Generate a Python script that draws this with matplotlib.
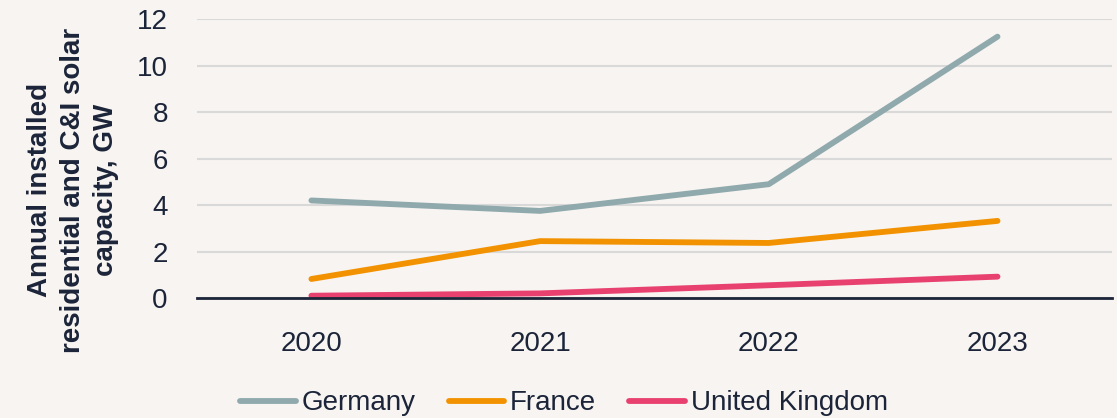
import matplotlib.pyplot as plt

years = ['2020', '2021', '2022', '2023']
germany = [4.2, 3.75, 4.9, 11.25]
france = [0.82, 2.45, 2.37, 3.32]
uk = [0.1, 0.2, 0.55, 0.92]

bg = '#F7F4F1'
txt = '#1B2438'

plt.rcParams['font.family'] = ['Liberation Sans', 'DejaVu Sans']

fig = plt.figure(figsize=(11.17, 4.18), dpi=100, facecolor=bg)
ax = fig.add_axes([0.1764, 0.287, 0.819, 0.667], facecolor=bg)

x = range(len(years))
kw = dict(lw=4.2, solid_capstyle='round')
ax.plot(x, germany, color='#8FA9AC', label='Germany', **kw)
ax.plot(x, france, color='#F39200', label='France', **kw)
ax.plot(x, uk, color='#E8416F', label='United Kingdom', **kw)

ax.set_xlim(-0.5, 3.5)
ax.set_ylim(0, 12)
ax.set_yticks(range(0, 13, 2))
ax.set_xticks(list(x))
ax.set_xticklabels(years)
ax.grid(axis='y', color='#D9D9D9', lw=1.5)
ax.set_axisbelow(True)
for s in ['top', 'right', 'left']:
    ax.spines[s].set_visible(False)
ax.spines['bottom'].set_color(txt)
ax.spines['bottom'].set_linewidth(2)
ax.spines['bottom'].set_zorder(5)
ax.tick_params(axis='both', length=0, labelsize=20, colors=txt)
ax.tick_params(axis='y', pad=21)
ax.tick_params(axis='x', pad=24)

# multi-line bold y title, placed by hand like the original
fig.text(0.065, 0.545, 'Annual installed\nresidential and C&I solar\ncapacity, GW',
         rotation=90, ha='center', va='center', fontsize=20, fontweight='bold',
         color=txt, linespacing=1.35)

leg = fig.legend(loc='center', bbox_to_anchor=(0.505, 0.035), ncol=3, frameon=False,
                 fontsize=20, handlelength=2.0, handletextpad=0.2, columnspacing=1.2)
for t in leg.get_texts():
    t.set_color(txt)

fig.savefig('out.png', dpi=100, facecolor=bg)
